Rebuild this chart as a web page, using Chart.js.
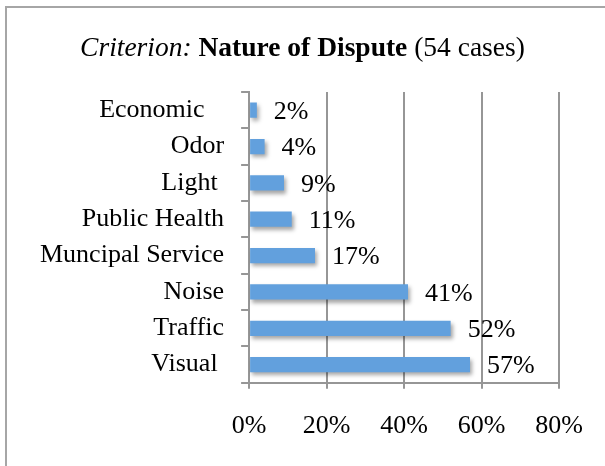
<!DOCTYPE html>
<html lang="en">
<head>
    <meta charset="UTF-8">
    <title>Nature of Dispute</title>
    <style>
        body {
            margin: 0;
            background: #fff;
            font-family: "Liberation Serif", "Times New Roman", serif;
        }
        .frame {
            position: absolute;
            left: 5px;
            top: 6px;
            width: 700px;
            height: 600px;
            border-left: 2px solid #a6a6a6;
            border-top: 2px solid #a6a6a6;
        }
        .chart-title {
            position: absolute;
            left: 0;
            top: 30px;
            width: 605px;
            text-align: center;
            font-size: 27.5px;
            line-height: 34px;
            color: #000;
        }
        .chart-box {
            position: absolute;
            left: 0;
            top: 0;
            width: 605px;
            height: 466px;
        }
    </style>
</head>
<body>
    <div class="frame"></div>
    <div class="chart-box"><canvas id="barChart" width="605" height="466"></canvas></div>
    <div class="chart-title"><i>Criterion:</i> <b>Nature of Dispute</b> (54 cases)</div>

    <script src="https://cdn.jsdelivr.net/npm/chart.js"></script>
    <script>
// Dữ liệu
const categories = ['Economic   ', 'Odor', 'Light ', 'Public Health', 'Muncipal Service', 'Noise', 'Traffic', 'Visual '];
const shares = [2, 4, 9, 11, 17, 41, 52, 57];
const xTicks = [0, 20, 40, 60, 80];

const gridGray = '#969696';
const serif = '"Liberation Serif", "Times New Roman", serif';

// bóng mờ dưới thanh
const barShadow = {
    id: 'barShadow',
    beforeDatasetsDraw(chart) {
        const ctx = chart.ctx;
        ctx.save();
        ctx.shadowColor = 'rgba(0, 0, 0, 0.35)';
        ctx.shadowBlur = 4;
        ctx.shadowOffsetX = 2;
        ctx.shadowOffsetY = 3;
    },
    afterDatasetsDraw(chart) {
        chart.ctx.restore();
    }
};

// nhãn giá trị bên phải thanh
const valueLabels = {
    id: 'valueLabels',
    afterDatasetsDraw(chart) {
        const ctx = chart.ctx;
        const meta = chart.getDatasetMeta(0);
        ctx.save();
        ctx.font = '26px ' + serif;
        ctx.fillStyle = '#000';
        ctx.textAlign = 'left';
        ctx.textBaseline = 'middle';
        meta.data.forEach((bar, i) => {
            ctx.fillText(shares[i] + '%', bar.x + 17, bar.y + 2);
        });
        ctx.restore();
    }
};

const ctx = document.getElementById('barChart').getContext('2d');
new Chart(ctx, {
    type: 'bar',
    data: {
        labels: categories,
        datasets: [{
            data: shares,
            backgroundColor: '#62a0dd',
            borderWidth: 0,
            barPercentage: 0.42,
            categoryPercentage: 1
        }]
    },
    options: {
        indexAxis: 'y',
        responsive: false,
        animation: false,
        layout: {
            padding: { left: 23, right: 35, top: 92, bottom: 2 }
        },
        plugins: {
            legend: { display: false },
            tooltip: { enabled: false }
        },
        scales: {
            x: {
                min: 0,
                max: 80,
                afterBuildTicks(axis) {
                    axis.ticks = xTicks.map(v => ({ value: v }));
                },
                grid: { color: gridGray, lineWidth: 2, tickLength: 6 },
                border: { color: gridGray, width: 2 },
                ticks: {
                    color: '#000',
                    padding: 22,
                    maxRotation: 0,
                    font: { family: serif, size: 26 },
                    callback: v => v + '%'
                }
            },
            y: {
                grid: { color: gridGray, lineWidth: 2, drawOnChartArea: false, tickLength: 8, offset: true },
                border: { color: gridGray, width: 2 },
                ticks: {
                    color: '#000',
                    padding: 17,
                    autoSkip: false,
                    font: { family: serif, size: 26 }
                }
            }
        }
    },
    plugins: [barShadow, valueLabels]
});
    </script>
</body>
</html>
